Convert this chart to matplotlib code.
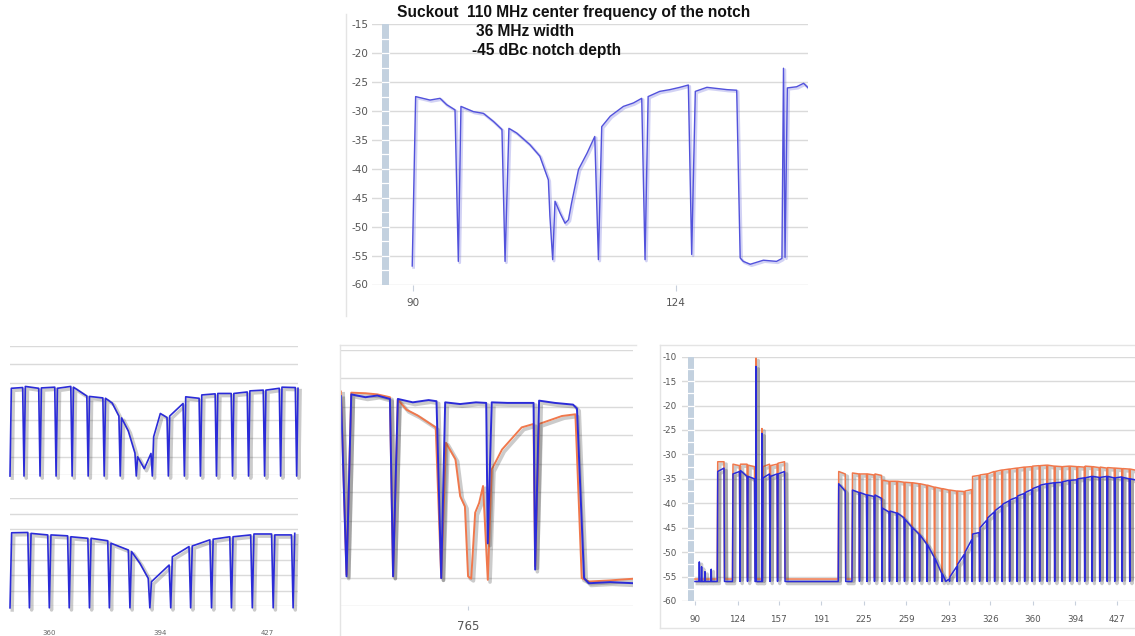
import numpy as np
import matplotlib
matplotlib.use("Agg")
import matplotlib.pyplot as plt
from matplotlib import patheffects as pe
from matplotlib.patches import Rectangle
from matplotlib.transforms import blended_transform_factory

W, H = 1135, 636

# ---------------- DATA ----------------
# Top panel: single trace (x in MHz, y in dB)
top_x = [89.9, 90.34, 92.2, 93.5, 94.35, 95.43, 95.86, 96.2, 97.8, 99.1, 100.4, 101.5, 101.9,
         102.4, 103.4, 105.1, 106.4, 107.5, 107.7, 108.06, 108.36, 109.0, 109.66, 110.1, 110.5,
         111.4, 112.5, 113.5, 113.97, 114.4, 115.5, 117.2, 118.5, 119.57, 120.0, 120.4, 121.9,
         123.2, 124.5, 125.6, 126.03, 126.5, 128.0, 129.3, 130.6, 131.85, 132.3, 132.7, 133.6,
         135.3, 137.0, 137.7, 137.9, 138.1, 138.4, 139.6, 140.5, 141.1]
top_y = [-56.8, -27.5, -28.1, -27.8, -28.9, -29.8, -56.0, -29.2, -30.1, -30.4, -31.8, -33.2, -56.0,
         -33.0, -33.8, -35.8, -37.8, -41.9, -48.2, -55.7, -45.6, -47.6, -49.4, -48.8, -45.9,
         -40.1, -37.3, -34.4, -55.7, -32.7, -30.9, -29.2, -28.6, -27.8, -55.7, -27.5, -26.6,
         -26.3, -25.9, -25.5, -54.8, -26.6, -25.9, -26.1, -26.3, -26.4, -55.4, -56.0, -56.5,
         -55.8, -56.0, -55.5, -22.6, -55.3, -26.0, -25.8, -25.2, -26.0]
top_xticks = [90, 124]
top_title = ["Suckout  110 MHz center frequency of the notch", "36 MHz width", "-45 dBc notch depth"]

# Bottom-left, upper sub chart: channel edges and level samples per channel
bl_up_edges = [-5.24, 0, 6, 12, 18, 24, 30, 36, 42, 48, 54, 60, 66, 72, 78, 84, 90, 96, 102, 102.5]
bl_up_levels = [(-36.5, -36.3), (-36.0, -36.5), (-36.4, -36.2), (-36.5, -36.0), (-36.2, -38.6),
                (-38.7, -39.1), (-39.2, -40.5, -44.0), (-44.5, -48.0, -54.0), (-55.0, -58.2, -54.1),
                (-49.6, -43.3, -44.4), (-44.0, -40.6), (-38.8, -39.2), (-38.3, -38.0), (-37.9, -37.9),
                (-37.9, -37.5), (-37.2, -37.0), (-37.0, -36.5), (-36.2, -36.3), (-36.5,)]
bl_up_depth = -60.2

# Bottom-left, lower sub chart
bl_lo_edges = [348.05, 354.0, 360.1, 366.2, 372.4, 378.5, 384.8, 390.9, 397.3, 403.4, 409.8,
               415.9, 422.3, 428.7, 434.8, 436.3]
bl_lo_levels = [(-36.2, -36.1), (-36.4, -36.9), (-36.9, -37.2), (-37.5, -38.0), (-38.0, -38.8),
                (-39.6, -41.8), (-42.3, -46.1, -51.0), (-52.1, -49.4, -46.7), (-44.0, -40.7),
                (-40.5, -38.5), (-38.3, -37.5), (-37.5, -36.9), (-36.6, -36.6), (-36.9, -36.9),
                (-36.4,)]
bl_lo_depth = -60.6
bl_xticks = [360, 394, 427]

# Bottom-middle: blue and orange traces
bm_blue_x = [748.9, 749.6, 750.2, 752.0, 753.5, 755.1, 755.5, 756.1, 758.0, 760.0, 761.0, 761.6,
             762.1, 764.0, 766.0, 767.3, 767.5, 768.0, 770.0, 773.3, 773.5, 774.0, 776.0, 778.3,
             778.8, 779.7, 780.3, 783.0, 786.0]
bm_blue_y = [-23.1, -54.8, -22.8, -23.3, -23.0, -23.6, -54.8, -23.6, -24.2, -23.8, -24.0, -55.1,
             -24.2, -24.5, -24.2, -24.3, -49.0, -24.2, -24.3, -24.3, -53.6, -23.9, -24.3, -24.6,
             -25.3, -55.1, -56.0, -55.8, -56.0]
bm_orange_x = [748.9, 749.6, 750.2, 752.0, 753.5, 755.1, 755.5, 756.1, 757.2, 758.6, 760.9, 761.6,
               762.2, 763.4, 764.0, 764.6, 765.0, 765.4, 765.9, 766.4, 766.9, 767.5, 768.0, 769.3,
               771.8, 773.3, 773.5, 774.0, 776.9, 778.6, 779.4, 780.3, 783.0, 786.0]
bm_orange_y = [-22.3, -54.5, -22.5, -22.6, -22.8, -23.3, -54.8, -23.7, -25.5, -26.5, -28.6, -55.1,
               -31.3, -34.2, -40.7, -42.5, -54.8, -55.2, -43.6, -41.9, -38.9, -55.4, -36.0, -32.5,
               -28.6, -28.0, -53.0, -28.0, -26.6, -26.3, -55.1, -55.7, -55.5, -55.2]
bm_xticks = [765]

# Bottom-right: channel edges, per-channel level samples for both series
br_edges = [90, 107.8, 113.6, 120, 126, 132, 138, 144, 150, 156, 162, 204.5, 210.5, 215.5,
            221.5, 227.5, 233.5, 239.5, 245.5, 251.5, 257.5, 263.5, 269.5, 275.5, 281.5, 287.5,
            293.5, 299.5, 305.5, 311.5, 317.5, 323.5, 329.5, 335.5, 341.5, 347.5, 353.5, 359.5,
            365.5, 371.5, 377.5, 383.5, 389.5, 395.5, 401.5, 407.5, 413.5, 419.5, 425.5, 431.5,
            437.5, 441.7]
br_blue_levels = [(-56, -56), (-33.5, -32.8), (-56, -56), (-34.0, -33.5), (-33.3, -34.5),
                  (-34.5, -35.0), (-56, -56), (-34.8, -34.0), (-34.5, -34.0), (-34.0, -33.5),
                  (-56, -56), (-36.0, -37.5), (-56, -56),
                  (-37.3, -37.8), (-37.8, -38.3), (-38.3, -38.6), (-38.3, -39.0), (-41.0, -41.8),
                  (-41.6, -42.0), (-42.0, -43.0), (-43.3, -44.8), (-45.0, -46.3), (-46.5, -48.3),
                  (-48.5, -51.0), (-51.3, -54.3), (-54.5, -56.0, -55.5), (-55.0, -53.0),
                  (-52.5, -50.5), (-50.0, -47.5), (-46.3, -46.0), (-45.0, -43.5), (-43.0, -41.8),
                  (-41.5, -40.5), (-40.2, -39.5), (-39.3, -38.8), (-38.5, -38.0), (-37.8, -37.2),
                  (-37.0, -36.5), (-36.3, -36.0), (-36.0, -35.8), (-35.8, -35.7), (-35.6, -35.3),
                  (-35.3, -35.2), (-35.0, -34.8), (-34.8, -34.5), (-34.5, -34.7), (-34.7, -34.5),
                  (-34.5, -34.8), (-34.8, -34.6), (-34.7, -35.0), (-35.0, -35.2)]
br_orange_levels = [(-55.5, -55.5), (-31.5, -31.5), (-55.5, -55.5), (-32.0, -32.3), (-32.0, -32.0),
                    (-32.2, -32.5), (-55.5, -55.5), (-32.5, -32.0), (-32.3, -32.0), (-31.8, -31.5),
                    (-55.5, -55.5), (-33.5, -34.0), (-55.5, -55.5),
                    (-33.8, -34.0), (-34.0, -34.0), (-34.0, -34.2), (-34.0, -34.3), (-35.3, -35.5),
                    (-35.5, -35.5), (-35.5, -35.7), (-35.7, -35.8), (-35.8, -36.0), (-36.0, -36.3),
                    (-36.3, -36.7), (-36.7, -37.0), (-37.0, -37.3), (-37.3, -37.5), (-37.5, -37.6),
                    (-37.5, -37.2), (-34.5, -34.3), (-34.2, -34.0), (-34.0, -33.5), (-33.5, -33.2),
                    (-33.2, -33.0), (-33.0, -32.8), (-32.8, -32.6), (-32.6, -32.5), (-32.4, -32.3),
                    (-32.3, -32.2), (-32.2, -32.4), (-32.4, -32.5), (-32.5, -32.4), (-32.4, -32.5),
                    (-32.5, -32.6), (-32.4, -32.5), (-32.5, -32.7), (-32.6, -32.8), (-32.7, -32.8),
                    (-32.8, -32.9), (-32.9, -33.0), (-33.0, -33.2)]
br_blue_depth, br_orange_depth = -56.0, -55.3
br_spike_x = [93.5, 95.3, 98.0, 103.0, 138.8, 143.5]
br_spike_blue = [-52.0, -53.0, -54.0, -53.5, -12.0, -25.7]
br_spike_orange = [-55.5, -55.5, -55.5, -55.5, -10.3, -24.7]
br_xticks = [90, 124, 157, 191, 225, 259, 293, 326, 360, 394, 427]

# ---------------- HELPERS ----------------
BLUE = '#2b2bd8'
TOPBLUE = '#5252dc'
ORANGE = '#f0784c'
GRID = '#dadada'
BAR = '#c3d1df'
LABEL = '#555555'

fig = plt.figure(figsize=(W / 100, H / 100), dpi=100)


def px_axes(l, t, r, b):
    ax = fig.add_axes([l / W, 1 - b / H, (r - l) / W, (b - t) / H])
    ax.set_facecolor('none')
    for s in ax.spines.values():
        s.set_visible(False)
    ax.set_axisbelow(True)
    return ax


def channel_trace(edges, levels, depth, ramp, lead_drop=False):
    xs, ys = [], []
    if lead_drop:
        xs.append(edges[0]); ys.append(depth)
    n = len(levels)
    for i, lv in enumerate(levels):
        a = edges[i] + (ramp if (i > 0 or lead_drop) else 0)
        b = edges[i + 1] - (ramp if i < n - 1 else 0)
        xs.extend(np.linspace(a, b, len(lv)))
        ys.extend(lv)
        if i < n - 1:
            xs.append(edges[i + 1]); ys.append(depth)
    return list(xs), list(ys)


def add_spikes(xs, ys, sx, sy, floor, half=0.2):
    xs, ys = list(xs), list(ys)
    for x, y in zip(sx, sy):
        xs += [x - half, x, x + half]
        ys += [floor, y, floor]
    xs, ys = np.array(xs), np.array(ys)
    o = np.argsort(xs, kind='stable')
    return xs[o], ys[o]


def shadow(lw):
    return [pe.SimpleLineShadow(offset=(1.6, -1.6), shadow_color='#333333', alpha=0.25, linewidth=lw + 1.2),
            pe.Normal()]


def range_bar(ax, x0, x1, y0, y1, step):
    tr = blended_transform_factory(ax.transAxes, ax.transData)
    ax.add_patch(Rectangle((x0, y0), x1 - x0, y1 - y0, transform=tr, color=BAR, lw=0, zorder=1.5))
    for y in np.arange(y0 + step, y1, step):
        ax.plot([x0, x1], [y, y], transform=tr, color='white', lw=0.9, zorder=1.6)


def fig_line(x0, y0, x1, y1, color='#e4e4e4', lw=1.0):
    fig.add_artist(plt.Line2D([x0 / W, x1 / W], [1 - y0 / H, 1 - y1 / H], color=color, lw=lw))


# ---------------- TOP PANEL ----------------
fig_line(346, 14, 346, 316)
ax = px_axes(372, 24.3, 808, 284.5)
ax.set_xlim(84.7, 141.07)
ax.set_ylim(-60, -15)
ax.set_yticks(np.arange(-60, -14, 5))
ax.set_yticklabels([str(v) for v in np.arange(-60, -14, 5)])
ax.grid(axis='y', color=GRID, lw=1.0)
ax.tick_params(axis='y', length=0, pad=2.5, labelsize=7.5, labelcolor=LABEL)
ax.set_xticks(top_xticks)
ax.tick_params(axis='x', length=4, width=0.8, color='#c8d0dc', pad=6, labelsize=7.5, labelcolor=LABEL)
range_bar(ax, (382 - 372) / 436, (389 - 372) / 436, -60, -15, 2.5)
ax.plot(top_x, top_y, color=TOPBLUE, lw=1.0, zorder=3,
        path_effects=[pe.SimpleLineShadow(offset=(1.0, -1.0), shadow_color='#8080e0', alpha=0.35, linewidth=2.0),
                      pe.Normal()])
tkw = dict(fontsize=11.2, fontweight='bold', family='Liberation Sans', color='#111111', va='center', ha='left')
fig.text(397 / W, 1 - 12.7 / H, top_title[0], **tkw)
fig.text(476 / W, 1 - 31.7 / H, top_title[1], **tkw)
fig.text(472 / W, 1 - 50.7 / H, top_title[2], **tkw)

# ---------------- BOTTOM-LEFT PANEL ----------------
ax = px_axes(10, 345.7, 298, 475.3)
ax.set_xlim(bl_up_edges[0], bl_up_edges[-1])
ax.set_ylim(-60, -25)
ax.set_yticks(np.arange(-60, -24, 5))
ax.grid(axis='y', color=GRID, lw=1.0)
ax.tick_params(length=0, labelleft=False, labelbottom=False)
ax.set_xticks([])
x, y = channel_trace(bl_up_edges, bl_up_levels, bl_up_depth, 0.5, lead_drop=True)
ax.plot(x, y, color=BLUE, lw=1.2, zorder=3, clip_on=False, path_effects=shadow(1.2))

ax = px_axes(10, 498.3, 298, 606)
ax.set_xlim(bl_lo_edges[0], bl_lo_edges[-1])
ax.set_ylim(-60, -25)
ax.set_yticks(np.arange(-60, -24, 5))
ax.grid(axis='y', color=GRID, lw=1.0)
ax.tick_params(axis='y', length=0, labelleft=False)
ax.set_xticks(bl_xticks)
ax.tick_params(axis='x', length=0, pad=17, labelsize=5, labelcolor='#666666')
x, y = channel_trace(bl_lo_edges, bl_lo_levels, bl_lo_depth, 0.5, lead_drop=True)
ax.plot(x, y, color=BLUE, lw=1.2, zorder=3, clip_on=False, path_effects=shadow(1.2))

# ---------------- BOTTOM-MIDDLE PANEL ----------------
fig_line(340, 345, 340, 636)
fig_line(340, 345, 636, 345)
ax = px_axes(341, 350, 633, 606)
ax.set_xlim(748.9, 785.9)
ax.set_ylim(-60, -15)
ax.set_yticks(np.arange(-60, -14, 5))
ax.grid(axis='y', color=GRID, lw=1.0)
ax.tick_params(axis='y', length=0, labelleft=False)
ax.set_xticks(bm_xticks)
ax.tick_params(axis='x', length=3, width=0.8, color='#c8d0dc', pad=7, labelsize=8.5, labelcolor=LABEL)
ax.plot(bm_orange_x, bm_orange_y, color=ORANGE, lw=1.4, zorder=3, path_effects=shadow(1.4))
ax.plot(bm_blue_x, bm_blue_y, color=BLUE, lw=1.4, zorder=4, path_effects=shadow(1.4))

# ---------------- BOTTOM-RIGHT PANEL ----------------
fig_line(660, 345, 660, 628)
fig_line(660, 345, 1135, 345)
fig_line(660, 628, 1135, 628)
ax = px_axes(681.7, 356.7, 1135, 601)
ax.set_xlim(79.4, 441.7)
ax.set_ylim(-60, -10)
ax.set_yticks(np.arange(-60, -9, 5))
ax.set_yticklabels([str(v) for v in np.arange(-60, -9, 5)])
ax.grid(axis='y', color=GRID, lw=1.0)
ax.tick_params(axis='y', length=0, pad=3.3, labelsize=6.3, labelcolor=LABEL)
ax.set_xticks(br_xticks)
ax.tick_params(axis='x', length=3, width=0.8, color='#c8d0dc', pad=7, labelsize=6.3, labelcolor=LABEL)
range_bar(ax, (688.3 - 681.7) / 453.3, (694.3 - 681.7) / 453.3, -60, -10, 2.5)
xo, yo = channel_trace(br_edges, br_orange_levels, br_orange_depth, 0.4)
xo, yo = add_spikes(xo, yo, br_spike_x, br_spike_orange, -55.5)
xb, yb = channel_trace(br_edges, br_blue_levels, br_blue_depth, 0.4)
xb, yb = add_spikes(xb, yb, br_spike_x, br_spike_blue, -56.0)
ax.plot(xo, yo, color=ORANGE, lw=1.1, zorder=3, path_effects=shadow(1.1))
ax.plot(xb, yb, color=BLUE, lw=1.1, zorder=4, path_effects=shadow(1.1))

fig.savefig('out.png', dpi=100, facecolor='white')
